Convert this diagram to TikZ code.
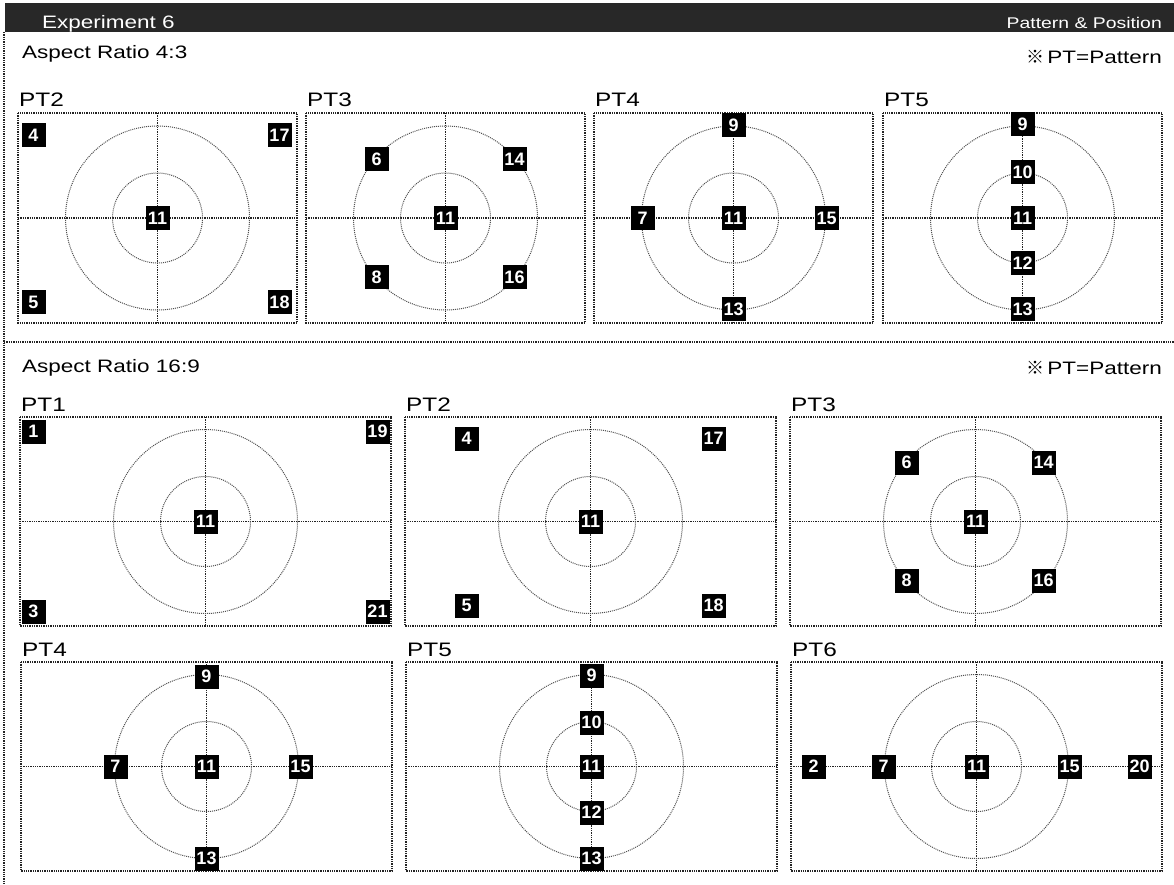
\documentclass[tikz,border=0pt]{standalone}
\usepackage{fontspec}
\setmainfont{Liberation Sans}[FakeStretch=1.25]
\newfontfamily\numfont{Liberation Sans}
\newfontfamily\cjkfont{Noto Sans CJK JP}
\usepackage{tikz}
\usetikzlibrary{positioning}
\usepackage{xcolor}
\definecolor{barblack}{RGB}{40,40,40}
\definecolor{lineblack}{RGB}{35,35,35}
\definecolor{ringgray}{RGB}{80,80,80}

\begin{document}
\begin{tikzpicture}[x=1pt, y=-1pt,
  frame/.style={densely dotted, line width=1.3pt, lineblack},
  ring/.style={densely dotted, line width=1pt, ringgray},
  posbox/.style={fill=black, text=white, inner sep=0pt, minimum size=24pt, font=\numfont\fontsize{18}{18}\selectfont\bfseries},
  ptlabel/.style={anchor=base west, inner sep=0pt, font=\fontsize{19.5}{22}\selectfont},
  headtext/.style={inner sep=0pt, font=\fontsize{18}{21}\selectfont}]
\useasboundingbox (0,0) rectangle (1174,884);

% header bar
\fill[barblack] (5,3) rectangle (1174,32);
\node[anchor=base west, inner sep=0pt, text=white, font=\fontsize{18}{20}\selectfont] (title) at (42,28) {Experiment 6};
\node[anchor=base east, inner sep=0pt, text=white, font=\fontsize{15.5}{18}\selectfont] (subtitle) at (1162,28) {Pattern \& Position};
\draw[frame] (4,32) -- (4,884);
\draw[frame] (4,342) -- (1174,342);

% section titles
\node[headtext, anchor=base west] (ratioa) at (22,58) {Aspect Ratio 4:3};
\node[headtext, anchor=base east] (notea) at (1162,63) {{\cjkfont ※}\,PT=Pattern};
\node[headtext, anchor=base west] (ratiob) at (22,372) {Aspect Ratio 16:9};
\node[headtext, anchor=base east] (noteb) at (1162,374) {{\cjkfont ※}\,PT=Pattern};

% 4:3 panels
\foreach \id/\txt/\lx in {a2/PT2/18, a3/PT3/306, a4/PT4/594, a5/PT5/883} {
  \draw[frame] (\lx,113) rectangle ++(279,210);
  \draw[frame] (\lx+139.5,113) -- ++(0,210);
  \draw[frame] (\lx,218) -- ++(279,0);
  \coordinate (\id) at (\lx+139.5,218);
  \draw[ring] (\id) circle (92) (\id) circle (45);
  \node[ptlabel] (\id-label) at (\lx+1,106) {\txt};
}

% 16:9 panels
\foreach \id/\txt/\lx/\ty in {b1/PT1/20/417, b2/PT2/405/417, b3/PT3/790/417,
                              b4/PT4/21/662, b5/PT5/406/662, b6/PT6/791/662} {
  \draw[frame] (\lx,\ty) rectangle ++(371,209);
  \draw[frame] (\lx+185.5,\ty) -- ++(0,209);
  \draw[frame] (\lx,\ty+104.5) -- ++(371,0);
  \coordinate (\id) at (\lx+185.5,\ty+104.5);
  \draw[ring] (\id) circle (92) (\id) circle (45);
  \node[ptlabel] (\id-label) at (\lx+1,\ty-6) {\txt};
}

% positions
\foreach \n/\dx/\dy in {4/-124/-83, 17/122/-83, 5/-124/84, 18/122/84, 11/0/0}
  \node[posbox] (a2-\n) at ([shift={(\dx,\dy)}]a2) {\n};
\foreach \n/\dx/\dy in {6/-69/-59, 14/69/-59, 8/-69/59, 16/69/59, 11/0/0}
  \node[posbox] (a3-\n) at ([shift={(\dx,\dy)}]a3) {\n};
\foreach \n/\dx/\dy in {9/0/-93, 7/-91/0, 11/0/0, 15/93/0, 13/0/91}
  \node[posbox] (a4-\n) at ([shift={(\dx,\dy)}]a4) {\n};
\foreach \n/\dx/\dy in {9/0/-94, 10/0/-46, 11/0/0, 12/0/45, 13/0/91}
  \node[posbox] (a5-\n) at ([shift={(\dx,\dy)}]a5) {\n};

\foreach \n/\dx/\dy in {1/-172/-90, 19/172/-90, 3/-172/90, 21/172/90, 11/0/0}
  \node[posbox] (b1-\n) at ([shift={(\dx,\dy)}]b1) {\n};
\foreach \n/\dx/\dy in {4/-124/-83, 17/123/-83, 5/-124/84, 18/123/84, 11/0/0}
  \node[posbox] (b2-\n) at ([shift={(\dx,\dy)}]b2) {\n};
\foreach \n/\dx/\dy in {6/-69/-59, 14/68/-59, 8/-69/59, 16/68/59, 11/0/0}
  \node[posbox] (b3-\n) at ([shift={(\dx,\dy)}]b3) {\n};
\foreach \n/\dx/\dy in {9/0/-90, 7/-91/0, 11/0/0, 15/94/0, 13/0/92}
  \node[posbox] (b4-\n) at ([shift={(\dx,\dy)}]b4) {\n};
\foreach \n/\dx/\dy in {9/0/-91, 10/0/-44, 11/0/0, 12/0/46, 13/0/92}
  \node[posbox] (b5-\n) at ([shift={(\dx,\dy)}]b5) {\n};
\foreach \n/\dx/\dy in {2/-163/0, 7/-93/0, 11/0/0, 15/93/0, 20/163/0}
  \node[posbox] (b6-\n) at ([shift={(\dx,\dy)}]b6) {\n};
\end{tikzpicture}
\end{document}
